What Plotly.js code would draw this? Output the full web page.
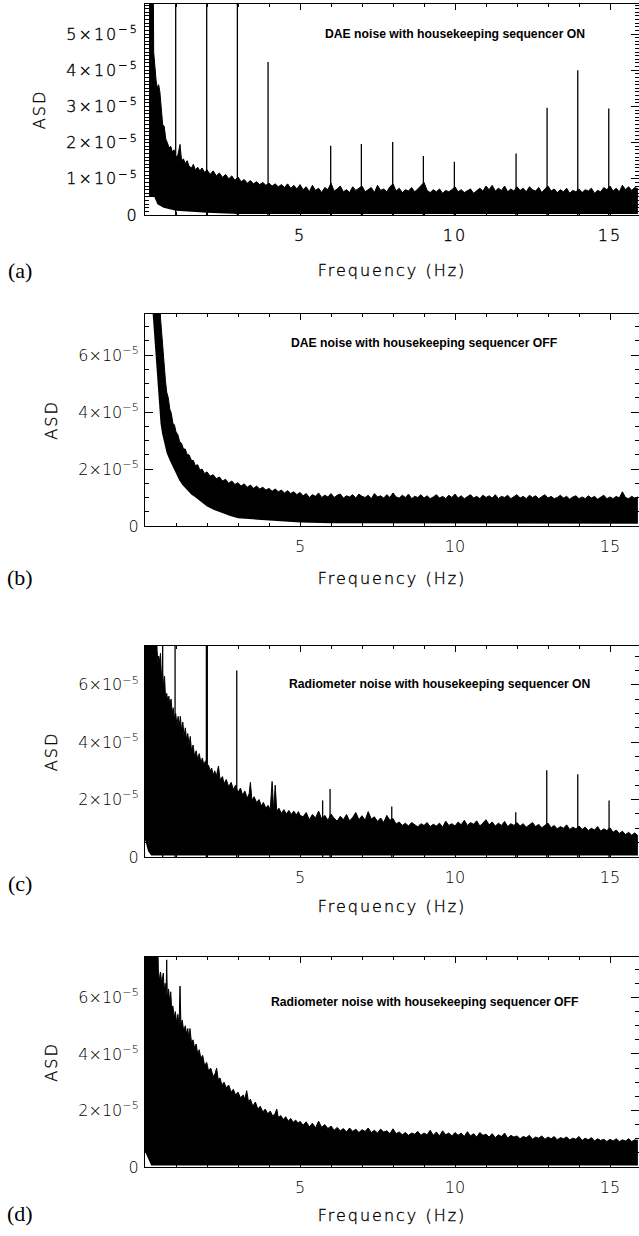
<!DOCTYPE html>
<html>
<head>
<meta charset="utf-8">
<script src="https://cdn.plot.ly/plotly-3.0.1.min.js"></script>
<style>
  html, body { margin: 0; padding: 0; background: #fff; }
  #chart { width: 639px; height: 1236px; }
  .xtick text, .ytick text,
  text[class^="x"][class$="title"], text[class^="y"][class$="title"] {
    letter-spacing: 2px; stroke: #000; stroke-width: 0.35px;
  }
</style>
</head>
<body>
<div id="chart"></div>
<script>
// ---------- DATA (ASD values in units of 1e-5, frequency in Hz) ----------
const SCALE = 1e-5;

// shared high-frequency grid (Hz)
const hiFreq = [5.1,5.2,5.3,5.4,5.5,5.6,5.7,5.8,5.9,6.0,
  6.1,6.2,6.3,6.4,6.5,6.6,6.7,6.8,6.9,7.0,
  7.1,7.2,7.3,7.4,7.5,7.6,7.7,7.8,7.9,8.0,
  8.1,8.2,8.3,8.4,8.5,8.6,8.7,8.8,8.9,9.0,
  9.1,9.2,9.3,9.4,9.5,9.6,9.7,9.8,9.9,10.0,
  10.1,10.2,10.3,10.4,10.5,10.6,10.7,10.8,10.9,11.0,
  11.1,11.2,11.3,11.4,11.5,11.6,11.7,11.8,11.9,12.0,
  12.1,12.2,12.3,12.4,12.5,12.6,12.7,12.8,12.9,13.0,
  13.1,13.2,13.3,13.4,13.5,13.6,13.7,13.8,13.9,14.0,
  14.1,14.2,14.3,14.4,14.5,14.6,14.7,14.8,14.9,15.0,
  15.1,15.2,15.3,15.4,15.5,15.6,15.7,15.8,15.9];

// Panel (a): DAE, housekeeping sequencer ON — upper edge of the noise
const loFreqA = [0.13,0.25,0.28,0.32,0.36,0.40,0.44,0.48,0.53,0.57,0.62,0.67,0.72,0.78,0.83,0.88,0.94,1.0,1.06,1.13,1.18,1.24,1.3,1.36,1.42,1.5,1.56,1.62,1.7,1.77,1.84,1.92,2.0,2.1,2.2,2.3,2.4,2.5,2.6,2.7,2.8,2.9,3.0,3.1,3.2,3.3,3.4,3.5,3.6,3.7,3.8,3.9,4.0,4.1,4.2,4.3,4.4,4.5,4.6,4.7,4.8,4.9,5.0];
const loUpperA = [9,9,4.5,4.0,3.7,3.5,3.6,3.4,2.9,2.5,2.45,2.1,2.0,1.85,1.9,1.75,1.8,1.6,1.65,1.95,1.5,1.55,1.42,1.5,1.35,1.3,1.4,1.25,1.32,1.22,1.3,1.18,1.25,1.12,1.22,1.08,1.16,1.04,1.12,1.0,1.08,0.96,1.05,0.92,0.98,0.88,0.95,0.86,0.92,0.84,0.9,0.82,0.88,0.8,0.86,0.78,0.84,0.76,0.86,0.74,0.82,0.72,0.84];
const hiUpperA = [0.70,0.78,0.64,0.82,0.68,0.74,0.62,0.76,0.70,0.88,
  0.66,0.72,0.80,0.64,0.70,0.62,0.78,0.68,0.74,0.80,
  0.64,0.70,0.76,0.62,0.82,0.68,0.72,0.64,0.78,0.86,
  0.66,0.74,0.62,0.70,0.66,0.76,0.64,0.72,0.80,0.90,
  0.68,0.62,0.70,0.64,0.72,0.60,0.68,0.64,0.70,0.78,
  0.64,0.70,0.62,0.66,0.72,0.60,0.68,0.74,0.66,0.80,
  0.70,0.82,0.66,0.74,0.68,0.80,0.64,0.72,0.66,0.78,
  0.68,0.74,0.64,0.78,0.70,0.66,0.76,0.62,0.72,0.80,
  0.66,0.72,0.62,0.70,0.64,0.74,0.60,0.68,0.64,0.72,
  0.62,0.70,0.66,0.74,0.60,0.68,0.64,0.76,0.70,0.80,
  0.66,0.74,0.64,0.82,0.70,0.78,0.68,0.76,0.72];
const lowFreqA = [0.13,0.3,0.4,0.6,1.0,2.0,3.0,15.9];
const lowerA = [0.5,0.5,0.3,0.2,0.12,0.06,0.03,0.03];
const spikeFreqA = [0.99,1.99,2.98,3.97,5.99,6.98,7.99,8.98,9.98,11.97,12.97,13.96,14.96];
const spikeA = [9,9,9,4.23,1.91,1.96,2.02,1.63,1.47,1.70,2.96,4.0,2.94];

// Panel (b): DAE, housekeeping sequencer OFF
const loFreqB = [0.25,0.45,0.5,0.54,0.58,0.62,0.66,0.7,0.75,0.8,0.85,0.9,0.95,1.0,1.06,1.12,1.18,1.24,1.3,1.36,1.42,1.5,1.56,1.62,1.7,1.77,1.84,1.92,2.0,2.1,2.2,2.3,2.4,2.5,2.6,2.7,2.8,2.9,3.0,3.1,3.2,3.3,3.4,3.5,3.6,3.7,3.8,3.9,4.0,4.1,4.2,4.3,4.4,4.5,4.6,4.7,4.8,4.9,5.0];
const loUpperB = [9,9,7.3,6.76,6.0,5.4,5.1,4.7,4.5,4.1,3.95,3.6,3.55,3.3,3.2,2.95,2.9,2.7,2.7,2.5,2.5,2.3,2.3,2.12,2.15,1.96,2.0,1.84,1.9,1.75,1.8,1.66,1.72,1.58,1.64,1.5,1.58,1.46,1.52,1.4,1.48,1.36,1.44,1.32,1.4,1.3,1.36,1.26,1.32,1.22,1.3,1.2,1.26,1.16,1.24,1.14,1.2,1.1,1.18];
const hiUpperB = [1.06,1.14,1.00,1.10,1.04,1.16,1.00,1.08,1.02,1.14,
  1.00,1.08,1.12,0.98,1.06,1.02,1.10,0.98,1.12,1.04,
  1.00,1.08,0.96,1.14,1.02,1.06,0.98,1.10,1.00,1.16,
  1.02,0.98,1.08,1.00,1.12,0.96,1.04,1.00,1.10,0.98,
  1.06,0.96,1.02,1.10,0.98,1.04,0.96,1.08,1.00,1.12,
  0.98,1.06,0.96,1.02,1.10,0.98,1.04,0.96,1.08,1.00,
  1.06,0.98,1.10,0.96,1.04,1.00,1.08,0.96,1.02,1.10,
  0.98,1.04,0.96,1.08,1.00,1.06,0.96,1.02,1.10,0.98,
  1.04,0.96,1.00,1.08,0.98,1.04,0.94,1.02,1.06,0.96,
  1.02,0.96,1.06,0.98,1.04,0.94,1.00,1.08,0.96,1.02,
  0.96,1.04,0.98,1.20,1.00,0.96,1.04,0.98,1.02];
const lowFreqB = [0.25,0.3,0.35,0.4,0.45,0.5,0.55,0.62,0.7,0.8,0.9,1.0,1.1,1.2,1.35,1.5,1.6,1.8,2.0,2.25,2.5,2.75,3.0,3.5,4.0,5.0,6.0,15.9];
const lowerB = [7.4,6.6,5.8,5.0,4.1,3.6,3.25,2.9,2.55,2.3,2.08,1.85,1.61,1.45,1.26,1.1,1.03,0.85,0.68,0.55,0.44,0.35,0.27,0.23,0.2,0.12,0.1,0.08];
const spikeFreqB = [];
const spikeB = [];

// Panel (c): Radiometer, housekeeping sequencer ON
const loFreqC = [0,0.36,0.39,0.42,0.44,0.47,0.5,0.53,0.56,0.6,0.63,0.66,0.7,0.74,0.77,0.8,0.84,0.88,0.91,0.95,0.99,1.03,1.07,1.1,1.14,1.18,1.22,1.26,1.3,1.34,1.38,1.42,1.46,1.5,1.55,1.6,1.65,1.7,1.75,1.8,1.85,1.9,1.95,2.0,2.05,2.1,2.15,2.2,2.25,2.3,2.37,2.42,2.5,2.55,2.62,2.7,2.78,2.85,2.92,3.0,3.08,3.15,3.22,3.3,3.36,3.4,3.45,3.52,3.6,3.68,3.75,3.82,3.9,3.97,4.04,4.1,4.15,4.2,4.25,4.32,4.4,4.48,4.56,4.64,4.72,4.8,4.88,4.95,5.0];
const loUpperC = [9,9,7.2,6.7,7.0,6.8,7.1,6.3,6.5,5.9,6.3,5.6,5.7,5.4,5.6,5.3,5.5,5.0,5.2,4.8,5.0,4.6,4.9,4.5,4.9,4.4,4.7,4.2,4.5,4.1,4.3,3.9,4.2,3.7,3.9,3.5,3.7,3.4,3.6,3.3,3.45,3.2,3.35,3.1,3.2,3.0,3.1,2.85,3.0,2.8,3.17,2.7,2.8,2.55,2.7,2.45,2.6,2.35,2.5,2.25,2.4,2.15,2.3,2.05,2.2,2.6,1.97,2.1,1.9,2.0,1.78,1.9,1.7,1.8,1.65,2.63,1.62,2.5,1.6,1.7,1.52,1.65,1.5,1.62,1.48,1.6,1.46,1.58,1.45];
const hiUpperC = [1.40,1.55,1.30,1.48,1.36,1.60,1.32,1.45,1.28,1.50,
  1.35,1.25,1.42,1.30,1.48,1.26,1.38,1.55,1.30,1.44,
  1.28,1.58,1.32,1.40,1.24,1.36,1.20,1.45,1.28,1.34,
  1.15,1.22,1.10,1.18,1.08,1.20,1.12,1.05,1.16,1.10,
  1.20,1.06,1.14,1.08,1.18,1.04,1.25,1.10,1.16,1.08,
  1.22,1.12,1.28,1.10,1.20,1.14,1.26,1.08,1.18,1.30,
  1.12,1.22,1.08,1.18,1.10,1.24,1.06,1.16,1.10,1.20,
  1.08,1.16,1.04,1.12,1.20,1.06,1.14,1.02,1.10,1.18,
  1.02,1.10,0.98,1.06,1.00,1.12,0.96,1.04,0.98,1.08,
  0.96,1.04,0.92,1.00,0.94,1.06,0.90,0.98,0.92,1.02,
  0.86,0.94,0.82,0.90,0.78,0.86,0.76,0.84,0.74];
const lowFreqC = [0,0.1,0.2,15.9];
const lowerC = [0.6,0.2,0.05,0.05];
const spikeFreqC = [0.57,0.97,1.98,2.01,2.96,5.73,5.97,7.96,11.96,12.96,13.96,14.97];
const spikeC = [9,9,9,9,6.5,1.97,2.37,1.76,1.56,3.02,2.88,1.97];

// Panel (d): Radiometer, housekeeping sequencer OFF
const loFreqD = [0,0.4,0.43,0.47,0.5,0.54,0.59,0.62,0.65,0.68,0.7,0.72,0.76,0.8,0.83,0.86,0.9,0.94,0.98,1.02,1.06,1.1,1.13,1.16,1.2,1.25,1.3,1.34,1.38,1.42,1.45,1.5,1.55,1.6,1.65,1.7,1.75,1.8,1.86,1.92,1.99,2.05,2.12,2.2,2.26,2.31,2.36,2.42,2.48,2.55,2.62,2.7,2.78,2.85,2.92,3.0,3.08,3.17,3.22,3.28,3.34,3.4,3.48,3.56,3.64,3.72,3.8,3.88,3.96,4.04,4.12,4.2,4.25,4.3,4.38,4.46,4.54,4.62,4.7,4.78,4.86,4.94,5.0];
const loUpperD = [9,9,6.97,6.6,6.9,6.5,6.86,6.2,6.5,6.0,7.33,6.0,6.3,5.8,6.2,5.6,5.7,5.3,5.5,5.1,5.4,5.0,6.4,5.0,5.2,4.8,5.0,4.7,4.9,4.5,4.9,4.4,4.5,4.2,4.35,4.0,4.15,3.85,3.95,3.6,3.7,3.4,3.5,3.2,3.3,3.5,3.1,3.15,2.9,3.0,2.8,2.9,2.65,2.75,2.55,2.65,2.45,2.55,2.4,2.7,2.3,2.4,2.15,2.3,2.05,2.15,1.95,2.05,1.88,1.98,1.8,1.9,2.05,1.75,1.82,1.68,1.78,1.62,1.72,1.58,1.66,1.55,1.62];
const hiUpperD = [1.48,1.60,1.42,1.55,1.38,1.62,1.40,1.50,1.36,1.45,
  1.30,1.40,1.28,1.36,1.24,1.38,1.26,1.34,1.22,1.32,
  1.26,1.38,1.22,1.30,1.20,1.34,1.24,1.28,1.18,1.35,
  1.18,1.24,1.14,1.22,1.12,1.20,1.16,1.26,1.12,1.20,
  1.14,1.30,1.12,1.24,1.10,1.28,1.14,1.20,1.10,1.22,
  1.12,1.20,1.08,1.25,1.10,1.18,1.06,1.22,1.12,1.16,
  1.06,1.18,1.04,1.14,1.08,1.20,1.02,1.12,1.06,1.10,
  1.00,1.08,1.04,1.12,0.98,1.06,1.02,1.10,0.98,1.06,
  1.00,1.08,0.96,1.04,1.00,1.06,0.96,1.02,0.98,1.08,
  0.94,1.02,0.96,1.04,0.92,1.00,0.94,0.98,0.90,0.98,
  0.92,1.00,0.90,0.96,0.92,1.00,0.90,0.96,0.94];
const lowFreqD = [0,0.1,0.2,15.9];
const lowerD = [0.55,0.3,0.05,0.05];
const spikeFreqD = [];
const spikeD = [];

// Tick labels / texts
const yTickValsA = [0,1,2,3,4,5];
const yTickValsBCD = [0,2,4,6];
const xTickVals = [5,10,15];
const panelTitles = [
  "DAE noise with housekeeping sequencer ON",
  "DAE noise with housekeeping sequencer OFF",
  "Radiometer noise with housekeeping sequencer ON",
  "Radiometer noise with housekeeping sequencer OFF"
];
const panelLetters = ["(a)","(b)","(c)","(d)"];

// ---------- LAYOUT GEOMETRY (pixels) ----------
const W = 639, H = 1236;
const plotLeft = 145;
const panelPix = [ {top:4, bottom:215, ymax:5.83, ticks:yTickValsA, minor:0.1, xStandoff:20},
                   {top:314, bottom:526, ymax:7.44, ticks:yTickValsBCD, minor:0.5, xStandoff:17},
                   {top:646, bottom:857, ymax:7.35, ticks:yTickValsBCD, minor:0.5, xStandoff:14},
                   {top:957, bottom:1167, ymax:7.43, ticks:yTickValsBCD, minor:0.5, xStandoff:13} ];
const titlePos = [ {x:455, y:34}, {x:424, y:343}, {x:440, y:684}, {x:424, y:1002} ];
const letterY = [270, 577, 883, 1213];

const series = [
  {f:loFreqA.concat(hiFreq), up:loUpperA.concat(hiUpperA), lf:lowFreqA, lo:lowerA, sf:spikeFreqA, s:spikeA},
  {f:loFreqB.concat(hiFreq), up:loUpperB.concat(hiUpperB), lf:lowFreqB, lo:lowerB, sf:spikeFreqB, s:spikeB},
  {f:loFreqC.concat(hiFreq), up:loUpperC.concat(hiUpperC), lf:lowFreqC, lo:lowerC, sf:spikeFreqC, s:spikeC},
  {f:loFreqD.concat(hiFreq), up:loUpperD.concat(hiUpperD), lf:lowFreqD, lo:lowerD, sf:spikeFreqD, s:spikeD}
];

const tickFont = {family:"DejaVu Sans", size:16, color:"#000", weight:300};
const titleFont = {family:"DejaVu Sans", size:16, color:"#000", weight:300};
const traces = [];
const layout = {
  width: W, height: H, autosize:false,
  margin:{l:0,r:0,t:0,b:0},
  paper_bgcolor:"#fff", plot_bgcolor:"#fff",
  showlegend:false,
  annotations:[]
};

series.forEach((d, i) => {
  const n = i + 1;
  const xa = n === 1 ? "x" : "x" + n;
  const ya = n === 1 ? "y" : "y" + n;
  traces.push({x:d.lf, y:d.lo.map(v=>v*SCALE), xaxis:xa, yaxis:ya, type:"scatter", mode:"lines",
    line:{width:0, color:"#000"}, hoverinfo:"skip"});
  traces.push({x:d.f, y:d.up.map(v=>v*SCALE), xaxis:xa, yaxis:ya, type:"scatter", mode:"lines",
    fill:"tonexty", fillcolor:"#000", line:{width:1, color:"#000"}, hoverinfo:"skip"});
  if (d.sf.length) {
    const sx = [], sy = [];
    d.sf.forEach((f, k) => { sx.push(f, f, null); sy.push(0, d.s[k]*SCALE, null); });
    traces.push({x:sx, y:sy, xaxis:xa, yaxis:ya, type:"scatter", mode:"lines",
      line:{width:1.3, color:"#000"}, hoverinfo:"skip", connectgaps:false});
  }
  const p = panelPix[i];
  const xKey = n === 1 ? "xaxis" : "xaxis" + n;
  const yKey = n === 1 ? "yaxis" : "yaxis" + n;
  layout[xKey] = {
    domain:[plotLeft/W, 1], range:[0, (W-plotLeft)/31], anchor:ya,
    tickmode:"array", tickvals:xTickVals, ticktext:xTickVals.map(String),
    ticks:"inside", ticklen:6, tickwidth:1, tickcolor:"#000",
    minor:{dtick:1, tick0:0, ticks:"inside", ticklen:3, tickwidth:1, tickcolor:"#000"},
    showline:true, linecolor:"#000", linewidth:1, mirror:"ticks",
    showgrid:false, zeroline:false, tickfont:tickFont, ticklabelstandoff:6,
    title:{text:"Frequency (Hz)", font:titleFont, standoff:p.xStandoff}
  };
  layout[yKey] = {
    domain:[1 - p.bottom/H, 1 - p.top/H], range:[0, p.ymax*SCALE], anchor:xa,
    tickmode:"array", tickvals:p.ticks.map(v=>v*SCALE),
    ticktext:p.ticks.map(v => v === 0 ? "0" : v + "×10<sup>−5</sup>"),
    ticks:"inside", ticklen:8, tickwidth:1, tickcolor:"#000",
    minor:{dtick:p.minor*SCALE, tick0:0, ticks:"inside", ticklen:4, tickwidth:1, tickcolor:"#000"},
    showline:true, linecolor:"#000", linewidth:1, mirror:"ticks",
    showgrid:false, zeroline:false, tickfont:tickFont, ticklabelstandoff:2,
    title:{text:"ASD", font:titleFont, standoff:16}
  };
  layout.annotations.push({
    text:"<b>" + panelTitles[i] + "</b>", xref:"paper", yref:"paper",
    x: titlePos[i].x / W, y: 1 - titlePos[i].y / H, xanchor:"center", yanchor:"middle",
    showarrow:false, font:{family:"Liberation Sans, Arial", size:12.2, color:"#000"}
  });
  layout.annotations.push({
    text: panelLetters[i], xref:"paper", yref:"paper",
    x: 20 / W, y: 1 - letterY[i] / H, xanchor:"center", yanchor:"middle",
    showarrow:false, font:{family:"Liberation Serif", size:22, color:"#000"}
  });
});

Plotly.newPlot("chart", traces, layout, {staticPlot:true, displayModeBar:false});
</script>
</body>
</html>
